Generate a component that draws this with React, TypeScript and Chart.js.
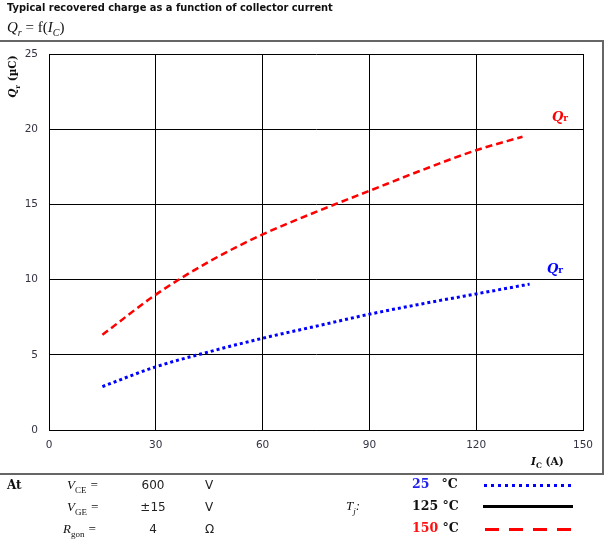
import React, { useEffect, useRef } from "react";
import { Chart, registerables } from "chart.js";

Chart.register(...registerables);

const xTicks = [0, 30, 60, 90, 120, 150];
const yTicks = [0, 5, 10, 15, 20, 25];

const icRed = [15, 30, 45, 60, 75, 90, 105, 120, 133];
const qrRed150 = [6.33, 9.0, 11.2, 13.0, 14.5, 15.9, 17.3, 18.6, 19.5];

const icBlue = [15, 30, 45, 60, 75, 90, 105, 120, 135];
const qrBlue25 = [2.89, 4.2, 5.2, 6.1, 6.9, 7.7, 8.4, 9.05, 9.7];

const tickFont = { family: "DejaVu Sans", size: 10.5 };

export default function App() {
  const ref = useRef<HTMLCanvasElement>(null);
  useEffect(() => {
    if (!ref.current) return;
    const chart = new Chart(ref.current, {
      type: "line",
      data: {
        datasets: [
          {
            label: "150 °C",
            data: icRed.map((x, i) => ({ x, y: qrRed150[i] })),
            borderColor: "#ff0000",
            borderWidth: 2.5,
            borderDash: [7, 4],
            pointRadius: 0,
            cubicInterpolationMode: "monotone",
            fill: false,
          },
          {
            label: "25 °C",
            data: icBlue.map((x, i) => ({ x, y: qrBlue25[i] })),
            borderColor: "#0000ff",
            borderWidth: 3,
            borderDash: [3, 3],
            pointRadius: 0,
            cubicInterpolationMode: "monotone",
            fill: false,
          },
        ],
      },
      options: {
        animation: false,
        responsive: false,
        events: [],
        layout: { padding: { left: 0, top: 54, right: 22, bottom: 84 } },
        plugins: { legend: { display: false }, tooltip: { enabled: false } },
        scales: {
          x: {
            type: "linear",
            min: 0,
            max: 150,
            afterBuildTicks: (s: any) => {
              s.ticks = xTicks.map((v) => ({ value: v }));
            },
            afterFit: (s: any) => {
              s.height = 30;
            },
            grid: { color: "#000", lineWidth: 1, drawTicks: false },
            border: { color: "#000", width: 1 },
            ticks: { color: "#333344", font: tickFont, padding: 9, maxRotation: 0 },
          },
          y: {
            type: "linear",
            min: 0,
            max: 25,
            afterBuildTicks: (s: any) => {
              s.ticks = yTicks.map((v) => ({ value: v }));
            },
            afterFit: (s: any) => {
              s.width = 49;
            },
            grid: { color: "#000", lineWidth: 1, drawTicks: false },
            border: { color: "#000", width: 1 },
            ticks: { color: "#333344", font: tickFont, padding: 11 },
          },
        },
      },
    });
    return () => chart.destroy();
  }, []);

  const abs = (l: number, t: number, extra: React.CSSProperties = {}): React.CSSProperties => ({
    position: "absolute",
    left: l,
    top: t,
    whiteSpace: "nowrap",
    lineHeight: 1,
    ...extra,
  });
  const serifI: React.CSSProperties = { fontFamily: "'Liberation Serif', serif", fontStyle: "italic", fontSize: 13 };
  const sans: React.CSSProperties = { fontFamily: "'DejaVu Sans', sans-serif", fontSize: 11, color: "#222" };
  const boldSerif: React.CSSProperties = { fontFamily: "'DejaVu Serif', serif", fontWeight: "bold", fontSize: 12.5 };

  return (
    <div style={{ position: "absolute", left: 0, top: 0, width: 605, height: 544, background: "#fff", overflow: "hidden" }}>
      <canvas ref={ref} width={605} height={544} style={{ position: "absolute", left: 0, top: 0 }} />
      {/* frame */}
      <div style={{ position: "absolute", left: -2, top: 40, width: 604, height: 431, border: "2px solid #666", borderLeft: "none" }} />
      <div style={abs(7, 3, { fontFamily: "'DejaVu Sans', sans-serif", fontWeight: "bold", fontSize: 9.9, color: "#111" })}>
        Typical recovered charge as a function of collector current
      </div>
      <div style={abs(7, 20, { ...serifI, fontSize: 15, color: "#111" })}>
        Q<sub style={{ fontSize: 10 }}>r</sub> <span style={{ fontStyle: "normal" }}>= f(</span>I<sub style={{ fontSize: 10 }}>C</sub><span style={{ fontStyle: "normal" }}>)</span>
      </div>
      {/* y axis title */}
      <div style={abs(-12, 70, { transform: "rotate(-90deg)", transformOrigin: "center", width: 52, textAlign: "center", fontFamily: "'DejaVu Serif', serif", fontWeight: "bold", fontSize: 10.5, color: "#111" })}>
        <i>Q</i><sub style={{ fontSize: 7 }}>r</sub> (µC)
      </div>
      {/* x axis title */}
      <div style={abs(531, 456, { fontFamily: "'DejaVu Serif', serif", fontWeight: "bold", fontSize: 10.5, color: "#111" })}>
        <i>I</i><sub style={{ fontSize: 7.5 }}>C</sub> (A)
      </div>
      {/* curve labels */}
      <div style={abs(552, 110, { fontFamily: "'DejaVu Serif', serif", fontWeight: "bold", fontStyle: "italic", fontSize: 13, color: "#ff0000" })}>
        Q<span style={{ fontStyle: "normal", fontSize: 9 }}>r</span>
      </div>
      <div style={abs(547, 262, { fontFamily: "'DejaVu Serif', serif", fontWeight: "bold", fontStyle: "italic", fontSize: 13, color: "#0000ff" })}>
        Q<span style={{ fontStyle: "normal", fontSize: 9 }}>r</span>
      </div>
      {/* table */}
      <div style={abs(7, 479, { ...boldSerif, fontSize: 12, color: "#111" })}>At</div>
      <div style={abs(67, 478, { ...serifI, color: "#111" })}>V<sub style={{ fontSize: 9, fontStyle: "normal" }}>CE</sub> =</div>
      <div style={abs(67, 500, { ...serifI, color: "#111" })}>V<sub style={{ fontSize: 9, fontStyle: "normal" }}>GE</sub> =</div>
      <div style={abs(63, 522, { ...serifI, color: "#111" })}>R<sub style={{ fontSize: 9, fontStyle: "normal" }}>gon</sub> =</div>
      <div style={abs(135, 479, { ...sans, width: 36, textAlign: "center", fontSize: 12 })}>600</div>
      <div style={abs(135, 501, { ...sans, width: 36, textAlign: "center", fontSize: 12 })}>±15</div>
      <div style={abs(135, 523, { ...sans, width: 36, textAlign: "center", fontSize: 12 })}>4</div>
      <div style={abs(205, 479, { ...sans, fontSize: 12 })}>V</div>
      <div style={abs(205, 501, { ...sans, fontSize: 12 })}>V</div>
      <div style={abs(205, 523, { ...sans, fontSize: 12 })}>Ω</div>
      <div style={abs(346, 499, { ...serifI, color: "#111" })}>T<sub style={{ fontSize: 9 }}>j</sub>:</div>
      <div style={abs(412, 478, { ...boldSerif, color: "#2222ee" })}>25<span style={{ marginLeft: 12, color: "#111" }}>°C</span></div>
      <div style={abs(412, 500, { ...boldSerif, color: "#111" })}>125 °C</div>
      <div style={abs(412, 522, { ...boldSerif, color: "#ff1111" })}>150 <span style={{ color: "#111" }}>°C</span></div>
      {/* legend lines */}
      <div style={{ position: "absolute", left: 484, top: 484, width: 90, height: 3, background: "repeating-linear-gradient(90deg, #0000ff 0 3px, transparent 3px 7px)" }} />
      <div style={{ position: "absolute", left: 483, top: 505, width: 90, height: 3, background: "#000" }} />
      <div style={{ position: "absolute", left: 485, top: 528, width: 90, height: 3, background: "repeating-linear-gradient(90deg, #ff0000 0 14px, transparent 14px 24px)" }} />
    </div>
  );
}
